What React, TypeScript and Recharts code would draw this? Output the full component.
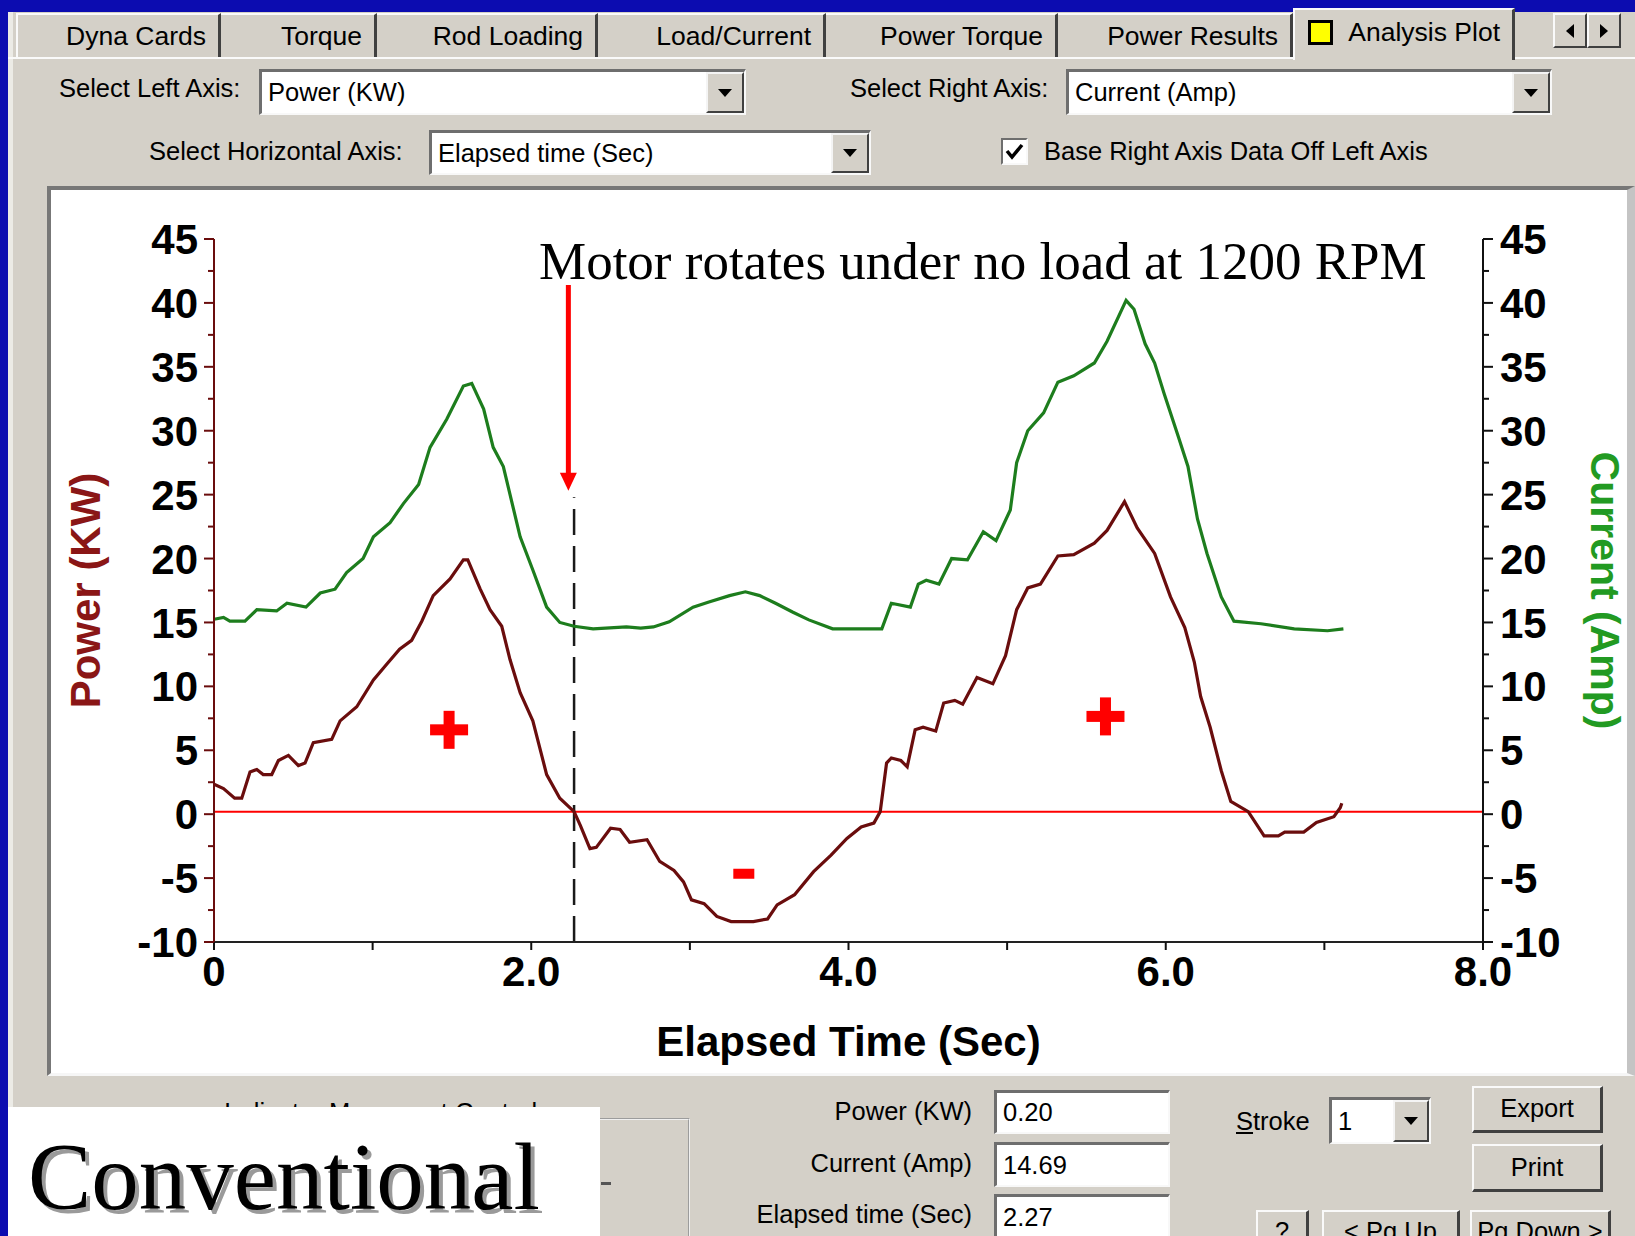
import React from 'react';
import { LineChart, Line, XAxis, YAxis, ReferenceLine, ReferenceDot } from 'recharts';

// ---------- data ----------
const powerTime = [
  0.0, 0.06, 0.13, 0.175, 0.227, 0.27, 0.31, 0.364, 0.406, 0.469, 0.532, 0.574, 0.626, 0.742, 0.795, 0.9,
  1.005, 1.09, 1.17, 1.246, 1.31, 1.382, 1.488, 1.572, 1.6, 1.677, 1.74, 1.814, 1.866, 1.93, 2.01, 2.097,
  2.18, 2.27, 2.31, 2.37, 2.41, 2.5, 2.56, 2.62, 2.73, 2.81, 2.9, 2.96, 3.01, 3.09, 3.17, 3.26, 3.4, 3.49,
  3.55, 3.66, 3.78, 3.89, 3.99, 4.08, 4.16, 4.2, 4.24, 4.27, 4.33, 4.37, 4.42, 4.47, 4.55, 4.6, 4.67, 4.72,
  4.81, 4.91, 4.99, 5.06, 5.13, 5.21, 5.32, 5.42, 5.55, 5.63, 5.74, 5.82, 5.93, 6.03, 6.12, 6.18, 6.22,
  6.28, 6.35, 6.41, 6.52, 6.62, 6.71, 6.75, 6.87, 6.95, 7.06, 7.1, 7.11,
];
const powerKW = [
  2.35, 2.0, 1.25, 1.25, 3.3, 3.5, 3.1, 3.1, 4.2, 4.6, 3.8, 4.0, 5.6, 5.85, 7.3, 8.4,
  10.5, 11.75, 12.9, 13.6, 15.1, 17.1, 18.4, 19.9, 19.9, 17.65, 16.0, 14.7, 12.1, 9.5, 7.3, 3.1,
  1.25, 0.2, -0.9, -2.7, -2.6, -1.1, -1.2, -2.2, -2.0, -3.7, -4.4, -5.3, -6.7, -7.0, -8.0, -8.4, -8.4, -8.2,
  -7.1, -6.3, -4.5, -3.2, -1.9, -1.0, -0.7, 0.2, 4.0, 4.4, 4.2, 3.7, 6.6, 6.8, 6.5, 8.7, 8.9, 8.6,
  10.7, 10.2, 12.4, 16.0, 17.7, 18.0, 20.2, 20.3, 21.2, 22.2, 24.45, 22.4, 20.4, 17.0, 14.6, 11.9, 9.2,
  6.8, 3.4, 1.0, 0.2, -1.7, -1.7, -1.4, -1.4, -0.65, -0.2, 0.5, 0.85,
];
const currentTime = [
  0.0, 0.06, 0.1, 0.195, 0.27, 0.395, 0.46, 0.58, 0.67, 0.763, 0.836, 0.94, 1.005, 1.11, 1.194, 1.29,
  1.362, 1.467, 1.572, 1.625, 1.7, 1.76, 1.824, 1.93, 2.01, 2.097, 2.18, 2.27, 2.39, 2.6, 2.69, 2.77,
  2.87, 3.02, 3.12, 3.25, 3.35, 3.44, 3.54, 3.65, 3.75, 3.9, 4.21, 4.27, 4.39, 4.44, 4.49, 4.57, 4.65,
  4.75, 4.85, 4.93, 5.02, 5.06, 5.13, 5.23, 5.32, 5.42, 5.55, 5.63, 5.75, 5.8, 5.87, 5.93, 5.99, 6.08,
  6.14, 6.2, 6.26, 6.35, 6.43, 6.6, 6.81, 7.02, 7.12,
];
const currentAmp = [
  15.25, 15.4, 15.1, 15.1, 16.0, 15.9, 16.5, 16.2, 17.3, 17.6, 18.9, 20.0, 21.7, 22.8, 24.3, 25.8,
  28.7, 30.9, 33.5, 33.7, 31.7, 28.7, 27.2, 21.7, 19.1, 16.2, 15.0, 14.7, 14.5, 14.65, 14.55, 14.65,
  15.05, 16.2, 16.6, 17.1, 17.4, 17.1, 16.5, 15.8, 15.2, 14.5, 14.5, 16.5, 16.2, 18.0, 18.3, 18.0, 20.0,
  19.9, 22.1, 21.4, 23.8, 27.5, 30.0, 31.4, 33.8, 34.3, 35.3, 37.0, 40.2, 39.5, 36.8, 35.3, 32.9, 29.5,
  27.2, 23.1, 20.4, 17.0, 15.1, 14.9, 14.5, 14.35, 14.5,
];
const xTicks = [0, 1, 2, 3, 4, 5, 6, 7, 8];
const yTicks = [-10, -7.5, -5, -2.5, 0, 2.5, 5, 7.5, 10, 12.5, 15, 17.5, 20, 22.5, 25, 27.5, 30, 32.5, 35, 37.5, 40, 42.5, 45];

// cursor / annotation values (data units)
const cursorTime = 2.27;
const cursorPower = 0.2;
const cursorLineTop = 24.8;
const arrowTime = 2.234;
const arrowFrom = 41.4;
const arrowTip = 25.3;
const plusMarks = [
  { t: 1.482, v: 6.6 },
  { t: 5.62, v: 7.65 },
];
const minusMark = { t: 3.34, v: -4.66 };

const tabLabels = ['Dyna Cards', 'Torque', 'Rod Loading', 'Load/Current', 'Power Torque', 'Power Results', 'Analysis Plot'];

const powerData = powerTime.map((t, i) => ({ t, v: powerKW[i] }));
const currentData = currentTime.map((t, i) => ({ t, v: currentAmp[i] }));

// ---------- styling ----------
const GRAY = '#d4d0c8';
const BLUE = '#0c0cb0';
const MAROON = '#6a0d0d';
const MAROON_LABEL = '#8a1616';
const GREEN = '#1d7d1d';
const GREEN_LABEL = '#229a22';
const FONT = '"Liberation Sans", Arial, Helvetica, sans-serif';
const SERIF = '"Liberation Serif", "Times New Roman", Times, serif';
const UI_FS = 25.5;
const TICK_FS = 42;

const TAB_X = [16, 221, 377, 598, 826, 1058, 1293, 1515];

const LeftTick = (p: any) => {
  const v = p.payload.value;
  const major = Math.abs(v % 5) < 1e-9;
  const ax = p.x + 16;
  return (
    <g>
      <line x1={ax - (major ? 10 : 6)} x2={ax} y1={p.y} y2={p.y} stroke={MAROON} strokeWidth={2} />
      {major && (
        <text x={p.x} y={p.y} dy="0.36em" textAnchor="end" fontSize={TICK_FS} fontWeight="bold" fill="#000" fontFamily={FONT}>
          {v}
        </text>
      )}
    </g>
  );
};

const RightTick = (p: any) => {
  const v = p.payload.value;
  const major = Math.abs(v % 5) < 1e-9;
  const ax = p.x - 17;
  return (
    <g>
      <line x1={ax} x2={ax + (major ? 10 : 6)} y1={p.y} y2={p.y} stroke="#111" strokeWidth={2} />
      {major && (
        <text x={p.x} y={p.y} dy="0.36em" textAnchor="start" fontSize={TICK_FS} fontWeight="bold" fill="#000" fontFamily={FONT}>
          {v}
        </text>
      )}
    </g>
  );
};

const BottomTick = (p: any) => {
  const v = p.payload.value;
  const major = v % 2 === 0;
  const ay = p.y - 14;
  return (
    <g>
      <line x1={p.x} x2={p.x} y1={ay} y2={ay + 8} stroke="#111" strokeWidth={2} />
      {major && (
        <text x={p.x} y={p.y} dy="0.72em" textAnchor="middle" fontSize={TICK_FS} fontWeight="bold" fill="#000" fontFamily={FONT}>
          {v === 0 ? '0' : v.toFixed(1)}
        </text>
      )}
    </g>
  );
};

const PlusShape = (p: any) => (
  <g>
    <rect x={p.cx - 19} y={p.cy - 5.5} width={38} height={11} fill="#ff0000" />
    <rect x={p.cx - 5.5} y={p.cy - 19} width={11} height={38} fill="#ff0000" />
  </g>
);
const MinusShape = (p: any) => <rect x={p.cx - 10.5} y={p.cy - 5} width={21} height={10} fill="#ff0000" />;
const ArrowHead = (p: any) => (
  <polygon points={`${p.cx - 8.5},${p.cy - 18} ${p.cx + 8.5},${p.cy - 18} ${p.cx},${p.cy}`} fill="#ff0000" />
);

// ---------- UI helpers ----------
const Txt = ({ x, y, children, size = UI_FS, w, align = 'left' as any, style = {} }: any) => (
  <div
    style={{
      position: 'absolute',
      left: x,
      top: y - 16,
      width: w,
      height: 32,
      lineHeight: '32px',
      fontSize: size,
      fontFamily: FONT,
      color: '#000',
      whiteSpace: 'nowrap',
      textAlign: align,
      ...style,
    }}
  >
    {children}
  </div>
);

const DropBtn = ({ w = 36 }: any) => (
  <div
    style={{
      position: 'absolute',
      right: 0,
      top: 0,
      bottom: 0,
      width: w,
      background: GRAY,
      borderTop: '2px solid #f4f4f4',
      borderLeft: '2px solid #f4f4f4',
      borderRight: '2px solid #404040',
      borderBottom: '2px solid #404040',
      boxSizing: 'border-box',
      display: 'flex',
      alignItems: 'center',
      justifyContent: 'center',
    }}
  >
    <svg width={14} height={8}>
      <polygon points="0,0 14,0 7,8" fill="#000" />
    </svg>
  </div>
);

const Sunken = ({ x, y, w, h, text, drop, btnW }: any) => (
  <div
    style={{
      position: 'absolute',
      left: x,
      top: y,
      width: w,
      height: h,
      background: '#fff',
      borderTop: '3px solid #6e6e6e',
      borderLeft: '3px solid #6e6e6e',
      borderRight: '2px solid #f8f8f8',
      borderBottom: '2px solid #f8f8f8',
      boxSizing: 'border-box',
      fontFamily: FONT,
      fontSize: UI_FS,
      lineHeight: `${h - 5}px`,
      paddingLeft: 6,
      whiteSpace: 'nowrap',
      overflow: 'hidden',
    }}
  >
    {text}
    {drop && <DropBtn w={btnW} />}
  </div>
);

const Button = ({ x, y, w, h, text }: any) => (
  <div
    style={{
      position: 'absolute',
      left: x,
      top: y,
      width: w,
      height: h,
      background: GRAY,
      borderTop: '2px solid #fafafa',
      borderLeft: '2px solid #fafafa',
      borderRight: '3px solid #404040',
      borderBottom: '3px solid #404040',
      boxSizing: 'border-box',
      fontFamily: FONT,
      fontSize: UI_FS,
      lineHeight: `${h - 6}px`,
      textAlign: 'center',
      whiteSpace: 'nowrap',
      overflow: 'hidden',
    }}
  >
    {text}
  </div>
);

export default function App() {
  return (
    <div
      style={{
        position: 'absolute',
        left: 0,
        top: 0,
        width: 1635,
        height: 1236,
        background: BLUE,
        overflow: 'hidden',
        fontFamily: FONT,
      }}
    >
      {/* dialog body */}
      <div style={{ position: 'absolute', left: 8, top: 12, width: 1627, height: 1224, background: GRAY, borderLeft: '5px solid #ecebe6', boxSizing: 'border-box' }} />
      <div style={{ position: 'absolute', left: 8, top: 57, width: 1627, height: 2, background: '#fafafa' }} />

      {/* tabs */}
      {tabLabels.map((t, i) => {
        const active = i === tabLabels.length - 1;
        return (
          <div
            key={t}
            style={{
              position: 'absolute',
              left: TAB_X[i],
              top: active ? 8 : 13,
              width: TAB_X[i + 1] - TAB_X[i],
              height: active ? 52 : 44,
              background: GRAY,
              borderTop: '2px solid #fafafa',
              borderLeft: i === 0 || active ? '2px solid #fafafa' : 'none',
              borderRight: '3px solid #404040',
              boxSizing: 'border-box',
              display: 'flex',
              alignItems: 'center',
              justifyContent: 'flex-end',
              paddingRight: 12,
              paddingBottom: active ? 6 : 0,
              fontSize: UI_FS + 1,
              fontFamily: FONT,
              whiteSpace: 'nowrap',
            }}
          >
            {active && (
              <span style={{ display: 'inline-block', width: 19, height: 19, background: '#ffff00', border: '3px solid #000', marginRight: 15 }} />
            )}
            {t}
          </div>
        );
      })}
      {/* tab scroll arrows */}
      <div style={{ position: 'absolute', left: 1553, top: 13, width: 34, height: 35, background: GRAY, borderTop: '2px solid #fafafa', borderLeft: '2px solid #fafafa', borderRight: '2px solid #404040', borderBottom: '2px solid #404040', boxSizing: 'border-box', display: 'flex', alignItems: 'center', justifyContent: 'center' }}>
        <svg width={8} height={14}><polygon points="8,0 8,14 0,7" fill="#000" /></svg>
      </div>
      <div style={{ position: 'absolute', left: 1587, top: 13, width: 34, height: 35, background: GRAY, borderTop: '2px solid #fafafa', borderLeft: '2px solid #fafafa', borderRight: '2px solid #404040', borderBottom: '2px solid #404040', boxSizing: 'border-box', display: 'flex', alignItems: 'center', justifyContent: 'center' }}>
        <svg width={8} height={14}><polygon points="0,0 0,14 8,7" fill="#000" /></svg>
      </div>

      {/* axis selectors */}
      <Txt x={59} y={88}>Select Left Axis:</Txt>
      <Sunken x={259} y={69} w={487} h={46} text="Power (KW)" drop btnW={38} />
      <Txt x={850} y={88}>Select Right Axis:</Txt>
      <Sunken x={1066} y={69} w={486} h={46} text="Current (Amp)" drop btnW={38} />
      <Txt x={149} y={151}>Select Horizontal Axis:</Txt>
      <Sunken x={429} y={130} w={442} h={45} text="Elapsed time (Sec)" drop btnW={38} />
      <div style={{ position: 'absolute', left: 1001, top: 138, width: 27, height: 27, background: '#fff', borderTop: '2px solid #6e6e6e', borderLeft: '2px solid #6e6e6e', borderRight: '2px solid #f8f8f8', borderBottom: '2px solid #f8f8f8', boxSizing: 'border-box' }}>
        <svg width={23} height={23} style={{ position: 'absolute', left: 0, top: 0 }}>
          <polyline points="4,11 9,17 19,5" fill="none" stroke="#000" strokeWidth={3.5} />
        </svg>
      </div>
      <Txt x={1044} y={151}>Base Right Axis Data Off Left Axis</Txt>

      {/* chart panel */}
      <div
        style={{
          position: 'absolute',
          left: 47,
          top: 186,
          width: 1588,
          height: 890,
          background: '#fff',
          borderTop: '4px solid #777',
          borderLeft: '4px solid #777',
          borderBottom: '3px solid #f6f6f6',
          borderRight: '8px solid #c4c4c4',
          boxSizing: 'border-box',
        }}
      />
      <div style={{ position: 'absolute', left: 47, top: 186 }}>
        <LineChart width={1580} height={888} margin={{ top: 53, right: 0, bottom: 0, left: 0 }}>
          <XAxis
            dataKey="t"
            type="number"
            domain={[0, 8]}
            ticks={xTicks}
            interval={0}
            allowDataOverflow
            height={132}
            axisLine={{ stroke: '#222', strokeWidth: 2 }}
            tickLine={false}
            tickSize={0}
            tickMargin={14}
            tick={<BottomTick />}
            label={{
              value: 'Elapsed Time (Sec)',
              position: 'insideBottom',
              offset: 18,
              fill: '#000',
              fontSize: 42,
              fontWeight: 'bold',
              fontFamily: FONT,
            }}
          />
          <YAxis
            yAxisId="left"
            orientation="left"
            type="number"
            domain={[-10, 45]}
            ticks={yTicks}
            interval={0}
            allowDataOverflow
            width={167}
            axisLine={{ stroke: MAROON, strokeWidth: 2 }}
            tickLine={false}
            tickSize={0}
            tickMargin={16}
            tick={<LeftTick />}
            label={{
              value: 'Power (KW)',
              angle: -90,
              position: 'insideLeft',
              offset: 38,
              fill: MAROON_LABEL,
              fontSize: 42,
              fontWeight: 'bold',
              fontFamily: FONT,
              style: { textAnchor: 'middle' },
            }}
          />
          <YAxis
            yAxisId="right"
            orientation="right"
            type="number"
            domain={[-10, 45]}
            ticks={yTicks}
            interval={0}
            allowDataOverflow
            width={144}
            axisLine={{ stroke: '#111', strokeWidth: 2 }}
            tickLine={false}
            tickSize={0}
            tickMargin={17}
            tick={<RightTick />}
            label={{
              value: 'Current (Amp)',
              angle: 90,
              position: 'insideRight',
              offset: 21,
              fill: GREEN_LABEL,
              fontSize: 41,
              fontWeight: 'bold',
              fontFamily: FONT,
              style: { textAnchor: 'middle' },
            }}
          />
          <ReferenceLine yAxisId="left" y={cursorPower} stroke="#ff0000" strokeWidth={2} />
          <ReferenceLine
            yAxisId="left"
            segment={[
              { x: cursorTime, y: -10 },
              { x: cursorTime, y: cursorLineTop },
            ]}
            stroke="#1a1a1a"
            strokeWidth={2.5}
            strokeDasharray="26 11"
          />
          <Line
            yAxisId="right"
            data={currentData}
            dataKey="v"
            type="linear"
            stroke={GREEN}
            strokeWidth={3.2}
            dot={false}
            activeDot={false}
            isAnimationActive={false}
          />
          <Line
            yAxisId="left"
            data={powerData}
            dataKey="v"
            type="linear"
            stroke={MAROON}
            strokeWidth={3.2}
            dot={false}
            activeDot={false}
            isAnimationActive={false}
          />
          <ReferenceLine
            yAxisId="left"
            segment={[
              { x: arrowTime, y: arrowFrom },
              { x: arrowTime, y: arrowTip + 1.2 },
            ]}
            stroke="#ff0000"
            strokeWidth={5}
          />
          <ReferenceDot yAxisId="left" x={arrowTime} y={arrowTip} r={0} shape={<ArrowHead />} />
          {plusMarks.map((m, i) => (
            <ReferenceDot key={i} yAxisId="left" x={m.t} y={m.v} r={0} shape={<PlusShape />} />
          ))}
          <ReferenceDot yAxisId="left" x={minusMark.t} y={minusMark.v} r={0} shape={<MinusShape />} />
        </LineChart>
      </div>
      <div
        style={{
          position: 'absolute',
          left: 539,
          top: 235,
          fontFamily: SERIF,
          fontSize: 53,
          lineHeight: '53px',
          color: '#000',
          whiteSpace: 'nowrap',
        }}
      >
        Motor rotates under no load at 1200 RPM
      </div>

      {/* bottom left: indicator group + caption */}
      <div style={{ position: 'absolute', left: 22, top: 1118, width: 668, height: 160, border: '2px groove #f0f0f0', boxSizing: 'border-box' }} />
      <Txt x={220} y={1112} style={{ background: GRAY, padding: '0 4px', width: 'auto' }}>Indicator Movement Control</Txt>
      <div style={{ position: 'absolute', left: 601, top: 1182, width: 10, height: 3, background: '#555' }} />
      <div style={{ position: 'absolute', left: 8, top: 1107, width: 592, height: 129, background: '#fff' }}>
        <div
          style={{
            position: 'absolute',
            left: 20,
            top: 23,
            fontFamily: SERIF,
            fontSize: 95,
            lineHeight: '95px',
            color: '#000',
            whiteSpace: 'nowrap',
            textShadow: '4px 4px 0 #9a9a9a',
          }}
        >
          Conventional
        </div>
      </div>

      {/* bottom right: readouts */}
      <Txt x={700} y={1111} w={272} align="right">Power (KW)</Txt>
      <Sunken x={994} y={1090} w={176} h={44} text="0.20" />
      <Txt x={700} y={1163} w={272} align="right">Current (Amp)</Txt>
      <Sunken x={994} y={1142} w={176} h={45} text="14.69" />
      <Txt x={700} y={1214} w={272} align="right">Elapsed time (Sec)</Txt>
      <Sunken x={994} y={1194} w={176} h={46} text="2.27" />

      <Txt x={1236} y={1121}>
        <span style={{ textDecoration: 'underline' }}>S</span>troke
      </Txt>
      <Sunken x={1329} y={1097} w={102} h={47} text="1" drop btnW={36} />
      <Button x={1472} y={1086} w={131} h={47} text="Export" />
      <Button x={1472} y={1144} w={131} h={48} text="Print" />
      <Button x={1256} y={1210} w={53} h={44} text="?" />
      <Button x={1322} y={1210} w={138} h={44} text="< Pg Up" />
      <Button x={1470} y={1210} w={141} h={44} text="Pg Down >" />
    </div>
  );
}
